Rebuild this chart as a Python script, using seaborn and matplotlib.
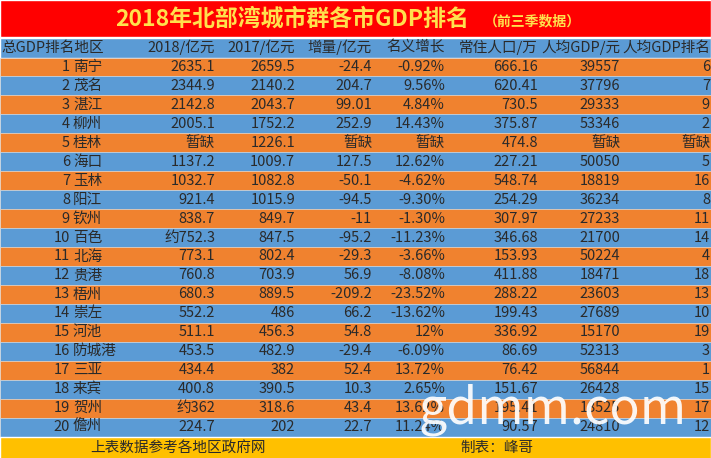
import matplotlib
matplotlib.use("Agg")
import matplotlib.pyplot as plt
import seaborn as sns

# table data
cities = ["南宁", "茂名", "湛江", "柳州", "桂林", "海口", "玉林", "阳江", "钦州", "百色",
          "北海", "贵港", "梧州", "崇左", "河池", "防城港", "三亚", "来宾", "贺州", "儋州"]
gdp2018 = ["2635.1", "2344.9", "2142.8", "2005.1", "暂缺", "1137.2", "1032.7", "921.4", "838.7", "约752.3",
           "773.1", "760.8", "680.3", "552.2", "511.1", "453.5", "434.4", "400.8", "约362", "224.7"]
gdp2017 = ["2659.5", "2140.2", "2043.7", "1752.2", "1226.1", "1009.7", "1082.8", "1015.9", "849.7", "847.5",
           "802.4", "703.9", "889.5", "486", "456.3", "482.9", "382", "390.5", "318.6", "202"]
increase = ["-24.4", "204.7", "99.01", "252.9", "暂缺", "127.5", "-50.1", "-94.5", "-11", "-95.2",
            "-29.3", "56.9", "-209.2", "66.2", "54.8", "-29.4", "52.4", "10.3", "43.4", "22.7"]
growth = ["-0.92%", "9.56%", "4.84%", "14.43%", "暂缺", "12.62%", "-4.62%", "-9.30%", "-1.30%", "-11.23%",
          "-3.66%", "-8.08%", "-23.52%", "-13.62%", "12%", "-6.09%", "13.72%", "2.65%", "13.62%", "11.24%"]
population = ["666.16", "620.41", "730.5", "375.87", "474.8", "227.21", "548.74", "254.29", "307.97", "346.68",
              "153.93", "411.88", "288.22", "199.43", "336.92", "86.69", "76.42", "151.67", "195.41", "90.57"]
per_capita = ["39557", "37796", "29333", "53346", "暂缺", "50050", "18819", "36234", "27233", "21700",
              "50224", "18471", "23603", "27689", "15170", "52313", "56844", "26428", "18525", "24810"]
pc_rank = ["6", "7", "9", "2", "暂缺", "5", "16", "8", "11", "14",
           "4", "18", "13", "10", "19", "3", "1", "15", "17", "12"]
headers = ["2018/亿元", "2017/亿元", "增量/亿元", "名义增长", "常住人口/万", "人均GDP/元", "人均GDP排名"]

sns.set_theme(style="white")
plt.rcParams['font.family'] = ['Noto Sans CJK SC', 'DejaVu Sans']

fig = plt.figure(figsize=(7.11, 4.58), dpi=100)
ax = fig.add_axes([0, 0, 1, 1])
ax.set_xlim(0, 711)
ax.set_ylim(458, 0)
ax.axis("off")

orange = "#F0822F"
blue = "#5B9BD5"
top = 57.5
rh = 18.95

# background bands
ax.barh(18, 711, height=37, left=0, color="#FF0000")
ax.barh(47.5, 711, height=20, left=0, color=blue)
for i in range(len(cities)):
    ax.barh(top + rh * i + rh / 2, 711, height=rh, left=0,
            color=orange if i % 2 == 0 else blue, edgecolor="#d9d9d9", linewidth=0.4)
ax.barh(448, 711, height=22, left=0, color="#FFC000")

ax.text(292, 19, "2018年北部湾城市群各市GDP排名", ha="center", va="center",
        fontsize=16.5, fontweight="bold", color="#FFE14D")
ax.text(484, 21, "（前三季数据）", ha="left", va="center", fontsize=10,
        fontweight="bold", color="#FFE14D")

txt = "#2a2a2a"
fs = 10.5
ax.text(1, 47.5, "总GDP排名地区", ha="left", va="center", fontsize=fs, color=txt)
right_edges = [215, 295, 372, 445, 538, 620, 710]
for x, h in zip(right_edges, headers):
    ax.text(x, 47.5, h, ha="right", va="center", fontsize=fs, color=txt)

columns = [gdp2018, gdp2017, increase, growth, population, per_capita, pc_rank]
for i, c in enumerate(cities):
    y = top + rh * i + rh / 2
    ax.text(70, y, str(i + 1), ha="right", va="center", fontsize=fs, color=txt)
    ax.text(73, y, c, ha="left", va="center", fontsize=fs, color=txt)
    for x, col in zip(right_edges, columns):
        ax.text(x, y, col[i], ha="right", va="center", fontsize=fs, color=txt)

ax.text(90, 448, "上表数据参考各地区政府网", ha="left", va="center", fontsize=fs, color=txt)
ax.text(460, 448, "制表：峰哥", ha="left", va="center", fontsize=fs, color=txt)

# watermark drawn over the table, as in the source image
ax.text(553, 410, "gdmm.com", ha="center", va="center", fontsize=36, color="white", alpha=0.92)

fig.savefig("out.png", dpi=100)
